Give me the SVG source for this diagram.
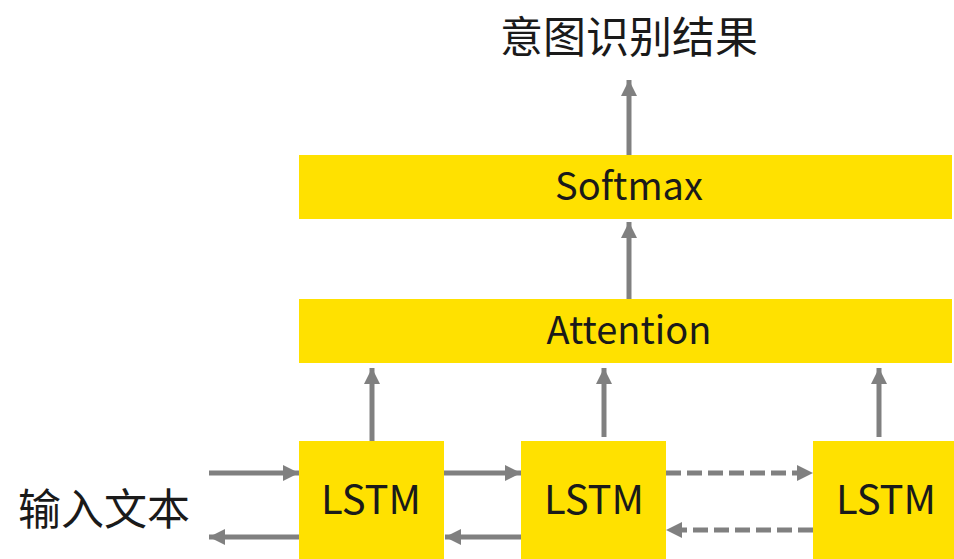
<svg xmlns="http://www.w3.org/2000/svg" width="954" height="559" viewBox="0 0 954 559">
<defs>
<style>
.box{fill:#FFE100;}
.lbl{font-family:"Noto Sans CJK SC","Noto Sans",sans-serif;font-size:38px;fill:#1a1a1a;text-anchor:middle;}
.lstm{font-size:40px;}
.cjk{font-family:"Noto Sans CJK SC",sans-serif;font-size:43px;fill:#1a1a1a;text-anchor:middle;}
.ln{stroke:#808080;stroke-width:5;fill:none;}
.dash{stroke-dasharray:15 6;}
</style>
<marker id="ah" viewBox="0 0 10 10" refX="10" refY="5" markerWidth="3.2" markerHeight="3.2" orient="auto" markerUnits="strokeWidth">
<path d="M0,0 L10,5 L0,10 Z" fill="#808080"/>
</marker>
</defs>
<rect width="954" height="559" fill="#fff"/>
<g id="connectors">
<line class="ln" x1="629" y1="155" x2="629" y2="80" marker-end="url(#ah)"/>
<line class="ln" x1="629" y1="299" x2="629" y2="222" marker-end="url(#ah)"/>
<line class="ln" x1="372" y1="441" x2="372" y2="368" marker-end="url(#ah)"/>
<line class="ln" x1="604" y1="437" x2="604" y2="368" marker-end="url(#ah)"/>
<line class="ln" x1="879" y1="437" x2="879" y2="368" marker-end="url(#ah)"/>
<line class="ln" x1="209" y1="473" x2="299" y2="473" marker-end="url(#ah)"/>
<line class="ln" x1="299" y1="537" x2="209" y2="537" marker-end="url(#ah)"/>
<line class="ln" x1="444" y1="473" x2="521" y2="473" marker-end="url(#ah)"/>
<line class="ln" x1="521" y1="537" x2="445" y2="537" marker-end="url(#ah)"/>
<line class="ln dash" x1="666" y1="473" x2="813" y2="473" marker-end="url(#ah)"/>
<line class="ln dash" x1="813" y1="530" x2="666" y2="530" marker-end="url(#ah)"/>
</g>
<g id="title"><text class="cjk" x="629" y="53">意图识别结果</text></g>
<g id="input"><text class="cjk" x="104" y="525">输入文本</text></g>
<g id="softmax"><rect class="box" x="299" y="155" width="653" height="64"/><text class="lbl" x="629" y="200">Softmax</text></g>
<g id="attention"><rect class="box" x="299" y="299" width="653" height="64"/><text class="lbl" x="629" y="344">Attention</text></g>
<g id="lstm1"><rect class="box" x="299" y="441" width="145" height="118"/><text class="lbl lstm" x="371" y="514">LSTM</text></g>
<g id="lstm2"><rect class="box" x="521" y="441" width="145" height="118"/><text class="lbl lstm" x="594" y="514">LSTM</text></g>
<g id="lstm3"><rect class="box" x="813" y="441" width="141" height="118"/><text class="lbl lstm" x="886" y="514">LSTM</text></g>
</svg>
